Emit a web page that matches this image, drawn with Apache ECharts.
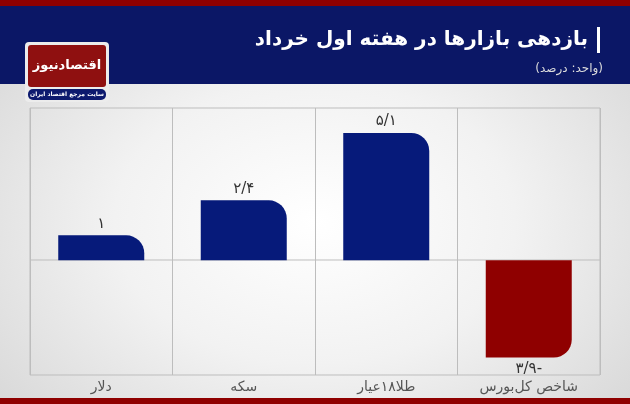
<!DOCTYPE html>
<html><head><meta charset="utf-8">
<script src="https://cdn.jsdelivr.net/npm/echarts@6/dist/echarts.min.js"></script>
<style>html,body{margin:0;padding:0;}#c{width:630px;height:404px;background:radial-gradient(ellipse at 50% 55%,#ffffff 0%,#f2f2f2 45%,#d4d4d4 100%);}</style>
</head><body><div id="c"></div>
<script>
const categories = ['دلار', 'سکه', 'طلا۱۸عیار', 'شاخص کل‌بورس'];
const values = [1, 2.4, 5.1, -3.9];
const title = 'بازدهی بازارها در هفته اول خرداد';
const subtitle = '(واحد: درصد)';
const fa = s => s.replace(/[0-9]/g, d => '۰۱۲۳۴۵۶۷۸۹'[d]).replace('.', '/');
const fmt = v => v < 0 ? fa(String(-v)) + '-' : fa(String(v));
const chart = echarts.init(document.getElementById('c'));
const F = 'DejaVu Sans';
chart.setOption({
  animation: false,
  grid: {left: 30, right: 30, top: 108, bottom: 29},
  xAxis: {type: 'category', data: categories, position: 'bottom',
    axisLine: {show: false}, axisTick: {show: false},
    splitLine: {show: true, lineStyle: {color: '#bdbdbd', width: 1}},
    axisLabel: {show: false}},
  yAxis: {type: 'value', min: -4.6, max: 6.1, show: false},
  graphic: [
    {type: 'rect', shape: {x: 30, y: 108, width: 570, height: 267}, style: {fill: 'none', stroke: '#bdbdbd', lineWidth: 1}, z: 0},
    {type: 'line', shape: {x1: 30, y1: 260, x2: 600, y2: 260}, style: {stroke: '#bdbdbd', lineWidth: 1}, z: 0},
    {type: 'rect', shape: {x: 0, y: 0, width: 630, height: 6}, style: {fill: '#8f0000'}},
    {type: 'rect', shape: {x: 0, y: 6, width: 630, height: 78}, style: {fill: '#0b1766'}},
    {type: 'rect', shape: {x: 0, y: 398, width: 630, height: 6}, style: {fill: '#8f0000'}},
    {type: 'rect', shape: {x: 597, y: 27, width: 3, height: 26}, style: {fill: '#ffffff'}},
    {type: 'text', x: 588, y: 40, style: {text: title, fill: '#ffffff', font: 'bold 20px "DejaVu Sans"', textAlign: 'right', textVerticalAlign: 'middle'}},
    {type: 'text', x: 603, y: 69, style: {text: subtitle, fill: '#dcdcdc', font: '12px "DejaVu Sans"', textAlign: 'right', textVerticalAlign: 'middle'}},
    {type: 'rect', shape: {x: 25, y: 42, width: 84, height: 60, r: 4}, style: {fill: '#ececec'}},
    {type: 'rect', shape: {x: 28, y: 45, width: 78, height: 42, r: 3}, style: {fill: '#8f1010'}},
    {type: 'text', x: 67, y: 66, style: {text: 'اقتصادنیوز', fill: '#fff', font: 'bold 13px "DejaVu Sans"', textAlign: 'center', textVerticalAlign: 'middle'}},
    {type: 'rect', shape: {x: 28, y: 89, width: 78, height: 11, r: 5}, style: {fill: '#0d1a6e'}},
    {type: 'text', x: 67, y: 94.5, style: {text: 'سایت مرجع اقتصاد ایران', fill: '#fff', font: 'bold 6px "DejaVu Sans"', textAlign: 'center', textVerticalAlign: 'middle'}},
    ...categories.map((c, i) => ({type: 'text', x: 30 + 570 * (i + 0.5) / 4, y: 387, style: {text: c, fill: '#555', font: '14px "DejaVu Sans"', textAlign: 'center', textVerticalAlign: 'middle'}}))
  ],
  series: [{
    type: 'bar', barWidth: 86,
    data: values.map(v => ({value: v,
      itemStyle: {color: v < 0 ? '#8f0000' : '#061a7a', borderRadius: v < 0 ? [0, 0, 18, 0] : [0, 18, 0, 0]},
      label: {show: true, position: v < 0 ? 'bottom' : 'top', distance: 4, formatter: () => fmt(v), color: '#333', fontSize: 15, fontFamily: F}}))
  }]
});
</script></body></html>
